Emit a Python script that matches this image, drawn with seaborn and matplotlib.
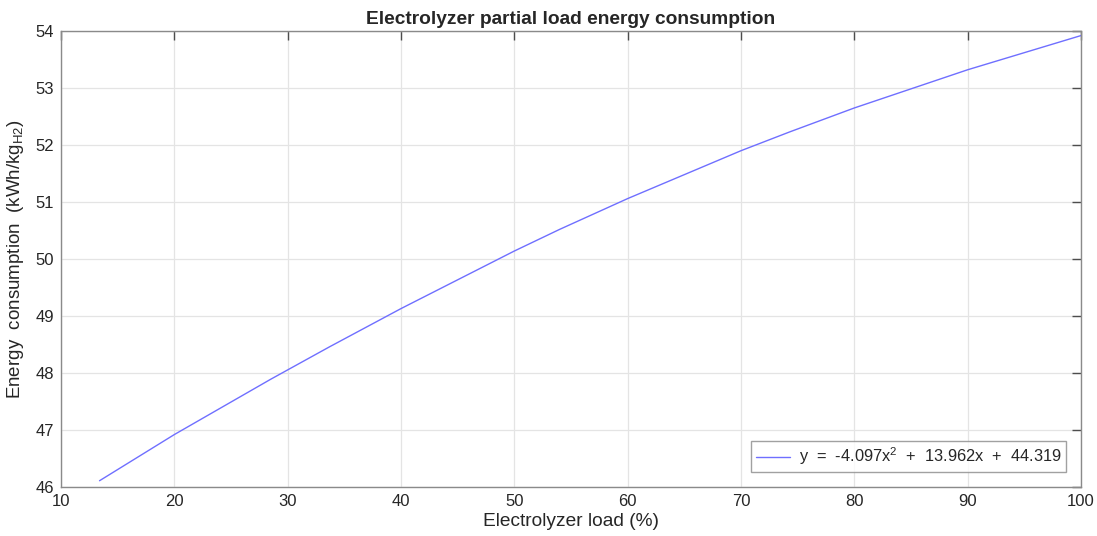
import matplotlib
matplotlib.use("Agg")
import matplotlib.pyplot as plt
import seaborn as sns
import pandas as pd

load_pct = [13.4, 20, 28.5, 33.7, 40, 50, 54, 60, 70, 74.3, 80, 90, 100]
energy = [46.11, 46.92, 47.89, 48.46, 49.13, 50.14, 50.52, 51.06, 51.90, 52.23, 52.65, 53.32, 53.92]
x_ticks = [10, 20, 30, 40, 50, 60, 70, 80, 90, 100]
y_ticks = [46, 47, 48, 49, 50, 51, 52, 53, 54]
legend_label = r"y  =  -4.097x$^{2}$  +  13.962x  +  44.319"

sns.set_style("white")
plt.rcParams['font.family'] = ['Liberation Sans', 'DejaVu Sans']
plt.rcParams['mathtext.fontset'] = 'custom'
plt.rcParams['mathtext.rm'] = 'Liberation Sans'
plt.rcParams['mathtext.it'] = 'Liberation Sans'

df = pd.DataFrame({"load": load_pct, "energy": energy})

fig = plt.figure(figsize=(10.97, 5.36), dpi=100)
ax = fig.add_axes([61/1097, 1-487/536, (1081-61)/1097, (487-31)/536])

sns.lineplot(data=df, x="load", y="energy", ax=ax, color="#6f6fff", lw=1.0,
             label=legend_label, estimator=None, sort=False)

ax.set_xlim(10, 100)
ax.set_ylim(46, 54)
ax.set_xticks(x_ticks)
ax.set_yticks(y_ticks)
ax.grid(True, color="#e4e4e4", lw=0.9)
ax.tick_params(axis="both", which="both", direction="in", length=6.5, width=1,
               color="#4d4d4d", labelsize=12, labelcolor="#262626",
               top=True, right=True, pad=5)
for s in ax.spines.values():
    s.set_color("#8a8a8a")
    s.set_linewidth(1.0)

ax.set_xlabel("Electrolyzer load (%)", fontsize=13.8, color="#262626", labelpad=3)
ax.set_ylabel(r"Energy  consumption  (kWh/kg$_{\mathrm{H2}}$)", fontsize=13.5,
              color="#262626", labelpad=7)
ax.set_title("Electrolyzer partial load energy consumption", fontsize=13.8,
             fontweight="bold", color="#262626", pad=5)

leg = ax.legend(loc="lower right", fontsize=11.8, frameon=True, fancybox=False,
                borderaxespad=0.9, handlelength=2.1, handletextpad=0.5,
                borderpad=0.3)
leg.get_frame().set_edgecolor("#8a8a8a")
leg.get_frame().set_linewidth(1.0)
for t in leg.get_texts():
    t.set_color("#262626")

fig.savefig("out.png", dpi=100)
